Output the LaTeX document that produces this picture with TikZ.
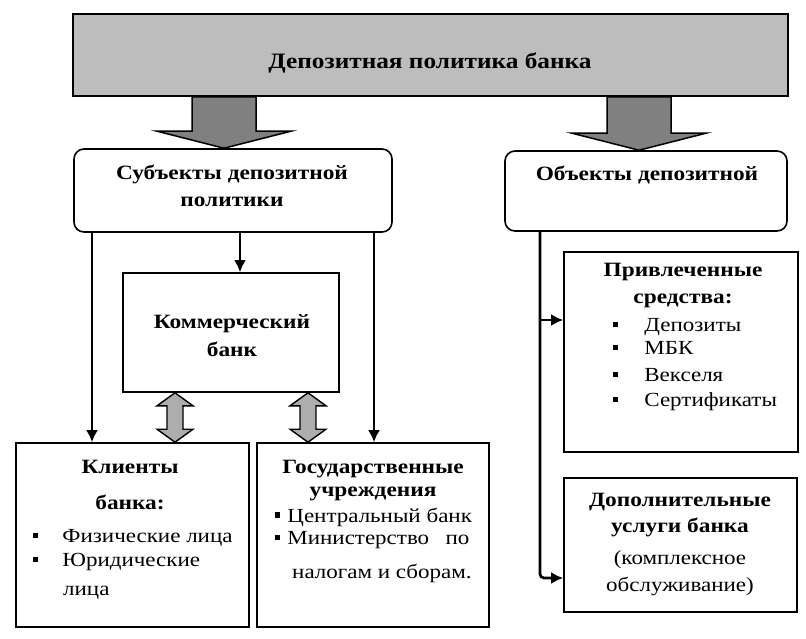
\documentclass[tikz,border=0pt]{standalone}
\usepackage{fontspec}
\setmainfont{Liberation Serif}[FakeStretch=1.15]
\usetikzlibrary{arrows.meta,calc}

\newcommand{\sqbullet}{\rule[0.22em]{0.26em}{0.26em}}

\begin{document}
\begin{tikzpicture}[x=1pt, y=-1pt,
    box/.style={draw, line width=1.6pt, inner sep=0pt},
    roundbox/.style={box, rounded corners=10pt},
    txt/.style={inner sep=0pt, align=center, font=\fontsize{20}{24}\selectfont},
    head/.style={inner sep=0pt, align=center, font=\bfseries\fontsize{20.3}{27}\selectfont},
    item/.style={inner sep=0pt, anchor=west, font=\fontsize{20}{24}\selectfont},
    bigarrow/.style={draw, line width=1.5pt, fill=black!50, line join=miter},
    dblarrow/.style={draw, line width=1.4pt, fill=black!32},
    link/.style={draw, line width=2.7pt, -{Latex[length=12pt,width=12pt]}}]
    \useasboundingbox (0,0) rectangle (806,638);

    % Boxes
    \node[box, fill=black!26, minimum width=715, minimum height=82] (top) at (430.5,55) {};
    \node[roundbox, minimum width=318, minimum height=83] (subj) at (233,190.5) {};
    \node[roundbox, minimum width=282, minimum height=80] (obj) at (646,191) {};
    \node[box, minimum width=216, minimum height=119] (bank) at (231,332.5) {};
    \node[box, minimum width=233, minimum height=184] (clients) at (132.5,535) {};
    \node[box, minimum width=232, minimum height=184] (gov) at (373,535) {};
    \node[box, minimum width=234, minimum height=200] (funds) at (681,352) {};
    \node[box, minimum width=233, minimum height=134] (serv) at (680.5,545) {};

    % Texts
    \node[head, font=\bfseries\fontsize{22}{27}\selectfont] (ttl) at (430,63) {Депозитная политика банка};
    \node[head] (subjtxt) at (232,186) {Субъекты депозитной\\политики};
    \node[head] (objtxt) at (647,175) {Объекты депозитной};
    \node[head, font=\bfseries\fontsize{20.3}{28}\selectfont] (banktxt) at (232,336) {Коммерческий\\банк};
    \node[head, font=\bfseries\fontsize{20.3}{36}\selectfont] (clitxt) at (130,485) {Клиенты\\банка:};
    \node[item] (cli1) at (33,538) {\sqbullet\hskip 24pt Физические лица};
    \node[item] (cli2) at (33,562) {\sqbullet\hskip 24pt Юридические};
    \node[item] (cli3) at (63,593) {лица};
    \node[head, font=\bfseries\fontsize{20.3}{23}\selectfont] (govtxt) at (373,481) {Государственные\\учреждения};
    \node[item] (gov1) at (275,517) {\sqbullet\hskip 7pt Центральный банк};
    \node[item] (gov2) at (275,540) {\sqbullet\hskip 7pt \makebox[182pt][s]{Министерство\hfill по}};
    \node[item] (gov3) at (292,573) {налогам и сборам.};
    \node[head, font=\bfseries\fontsize{20.3}{27}\selectfont] (fundtxt) at (683,286) {Привлеченные\\средства:};
    \node[item] (fund1) at (613,327) {\sqbullet\hskip 26pt Депозиты};
    \node[item] (fund2) at (613,348) {\sqbullet\hskip 26pt МБК};
    \node[item] (fund3) at (613,375) {\sqbullet\hskip 26pt Векселя};
    \node[item] (fund4) at (613,402) {\sqbullet\hskip 26pt Сертификаты};
    \node[head, font=\bfseries\fontsize{20.3}{26}\selectfont] (servtxt) at (680,515) {Дополнительные\\услуги банка};
    \node[txt, font=\fontsize{20}{27}\selectfont] (servtxt2) at (680,573) {(комплексное\\обслуживание)};

    % Wide arrows from the top box
    \coordinate (la) at (224,0);
    \coordinate (ra) at (639,0);
    \foreach \c/\n in {la/subj, ra/obj}
        \draw[bigarrow] ($(\c |- top.south)+(-32,0)$) -- ($(\c |- \n.north)+(-32,-17)$)
            -- ++(-35,0) -- (\c |- \n.north) -- ++(67,-17) -- ++(-35,0)
            -- ($(\c |- top.south)+(32,0)$) -- cycle;

    % Two-way arrows
    \coordinate (d1) at (175,0);
    \coordinate (d2) at (308,0);
    \foreach \c in {d1, d2}
        \draw[dblarrow] (\c |- bank.south) -- ++(18,13) -- ++(-10,0)
            -- ($(\c |- clients.north)+(8,-13)$) -- ++(10,0) -- (\c |- clients.north)
            -- ++(-18,-13) -- ++(10,0) -- ($(\c |- bank.south)+(-8,13)$) -- ++(-10,0) -- cycle;

    % Thin arrows
    \coordinate (l1) at (92,0);
    \coordinate (l2) at (240,0);
    \coordinate (l3) at (374,0);
    \coordinate (r1) at (540,0);
    \coordinate (fa) at (0,320);
    \coordinate (sa) at (0,578);
    \draw[link] (l1 |- subj.south) -- (l1 |- clients.north);
    \draw[link] (l2 |- subj.south) -- (l2 |- bank.north);
    \draw[link] (l3 |- subj.south) -- (l3 |- gov.north);
    \draw[link, rounded corners=4pt] (r1 |- obj.south) -- (r1 |- sa) -- (serv.west |- sa);
    \draw[link] (r1 |- fa) -- (funds.west |- fa);
\end{tikzpicture}
\end{document}
